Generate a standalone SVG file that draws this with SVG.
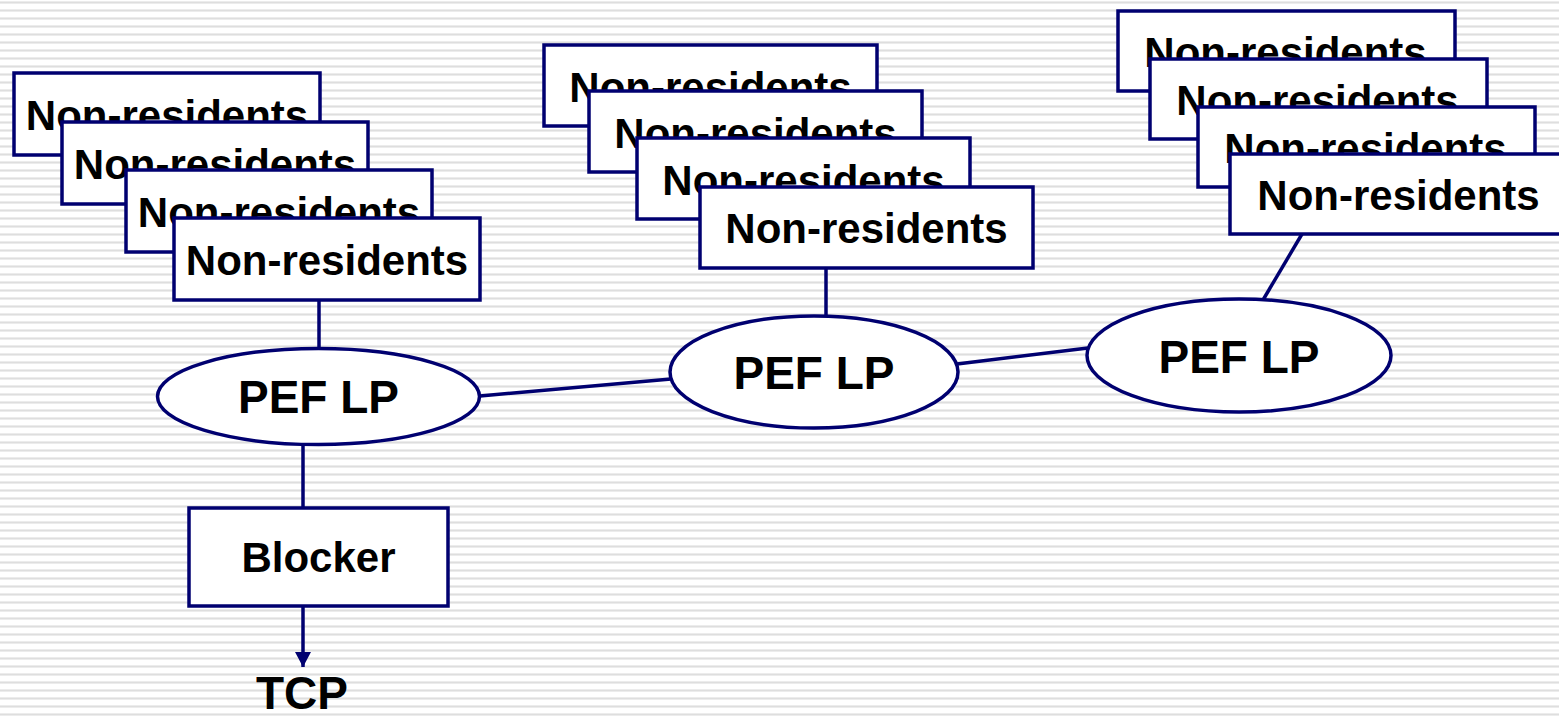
<svg xmlns="http://www.w3.org/2000/svg" width="1559" height="717" viewBox="0 0 1559 717">
  <defs>
    <!-- horizontal ruled background -->
    <pattern id="stripes" x="0" y="0" width="8" height="8" patternUnits="userSpaceOnUse">
      <rect x="0" y="0" width="8" height="8" fill="#ffffff"/>
      <rect x="0" y="1" width="8" height="1" fill="#ececec"/>
      <rect x="0" y="2" width="8" height="1" fill="#dedede"/>
      <rect x="0" y="3" width="8" height="1" fill="#ececec"/>
    </pattern>
    <marker id="arrow" viewBox="0 0 15 16" refX="15" refY="8" markerWidth="15" markerHeight="16" markerUnits="userSpaceOnUse" orient="auto">
      <path d="M0,0 L15,8 L0,16 Z" fill="#000070"/>
    </marker>
  </defs>
  <style>
    .box { fill: #ffffff; stroke: #000070; stroke-width: 3.5; }
    .oval { fill: #ffffff; stroke: #000070; stroke-width: 3.5; }
    .link { fill: none; stroke: #000070; stroke-width: 3.5; }
    .lbl { font-family: "Liberation Sans", Arial, sans-serif; font-weight: bold; fill: #000000; text-anchor: middle; }
    .nr { font-size: 42px; }
    .big { font-size: 46px; }
  </style>

  <rect x="0" y="0" width="1559" height="717" fill="url(#stripes)"/>

  <!-- connectors -->
  <g id="connectors">
    <line class="link" x1="319" y1="299" x2="319" y2="349"/>
    <line class="link" x1="826" y1="267" x2="826" y2="317"/>
    <line class="link" x1="1302" y1="234" x2="1263" y2="300"/>
    <line class="link" x1="480" y1="396" x2="671" y2="379"/>
    <line class="link" x1="957" y1="364" x2="1088" y2="348"/>
    <line class="link" x1="303" y1="444" x2="303" y2="508"/>
    <line class="link" x1="303" y1="606" x2="303" y2="667" marker-end="url(#arrow)"/>
  </g>

  <!-- left group of non-residents -->
  <g id="nr-left-1"><rect class="box" x="14" y="73" width="306" height="82"/><text class="lbl nr" x="167" y="130">Non-residents</text></g>
  <g id="nr-left-2"><rect class="box" x="62" y="122" width="306" height="82"/><text class="lbl nr" x="215" y="179">Non-residents</text></g>
  <g id="nr-left-3"><rect class="box" x="126" y="170" width="306" height="82"/><text class="lbl nr" x="279" y="227">Non-residents</text></g>
  <g id="nr-left-4"><rect class="box" x="174" y="218" width="306" height="82"/><text class="lbl nr" x="327" y="275">Non-residents</text></g>

  <!-- middle group of non-residents -->
  <g id="nr-mid-1"><rect class="box" x="544" y="45" width="333" height="81"/><text class="lbl nr" x="710.5" y="102">Non-residents</text></g>
  <g id="nr-mid-2"><rect class="box" x="589" y="91" width="333" height="81"/><text class="lbl nr" x="755.5" y="148">Non-residents</text></g>
  <g id="nr-mid-3"><rect class="box" x="637" y="138" width="333" height="81"/><text class="lbl nr" x="803.5" y="195">Non-residents</text></g>
  <g id="nr-mid-4"><rect class="box" x="700" y="187" width="333" height="81"/><text class="lbl nr" x="866.5" y="243">Non-residents</text></g>

  <!-- right group of non-residents -->
  <g id="nr-right-1"><rect class="box" x="1118" y="11" width="337" height="80"/><text class="lbl nr" x="1285.5" y="67">Non-residents</text></g>
  <g id="nr-right-2"><rect class="box" x="1150" y="59" width="337" height="80"/><text class="lbl nr" x="1317.5" y="115">Non-residents</text></g>
  <g id="nr-right-3"><rect class="box" x="1198" y="107" width="337" height="80"/><text class="lbl nr" x="1365.5" y="163">Non-residents</text></g>
  <g id="nr-right-4"><rect class="box" x="1230" y="154" width="337" height="80"/><text class="lbl nr" x="1398.5" y="210">Non-residents</text></g>

  <!-- PEF LP nodes -->
  <g id="pef-left"><ellipse class="oval" cx="318.5" cy="396.5" rx="161" ry="48"/><text class="lbl big" x="318.5" y="413">PEF LP</text></g>
  <g id="pef-mid"><ellipse class="oval" cx="814" cy="372" rx="144" ry="56"/><text class="lbl big" x="814" y="389">PEF LP</text></g>
  <g id="pef-right"><ellipse class="oval" cx="1239" cy="355.5" rx="152" ry="56.5"/><text class="lbl big" x="1239" y="373">PEF LP</text></g>

  <!-- blocker and output -->
  <g id="blocker"><rect class="box" x="189" y="508" width="259" height="98"/><text class="lbl nr" x="318.5" y="572">Blocker</text></g>
  <g id="tcp"><text class="lbl big" x="302" y="709">TCP</text></g>
</svg>
